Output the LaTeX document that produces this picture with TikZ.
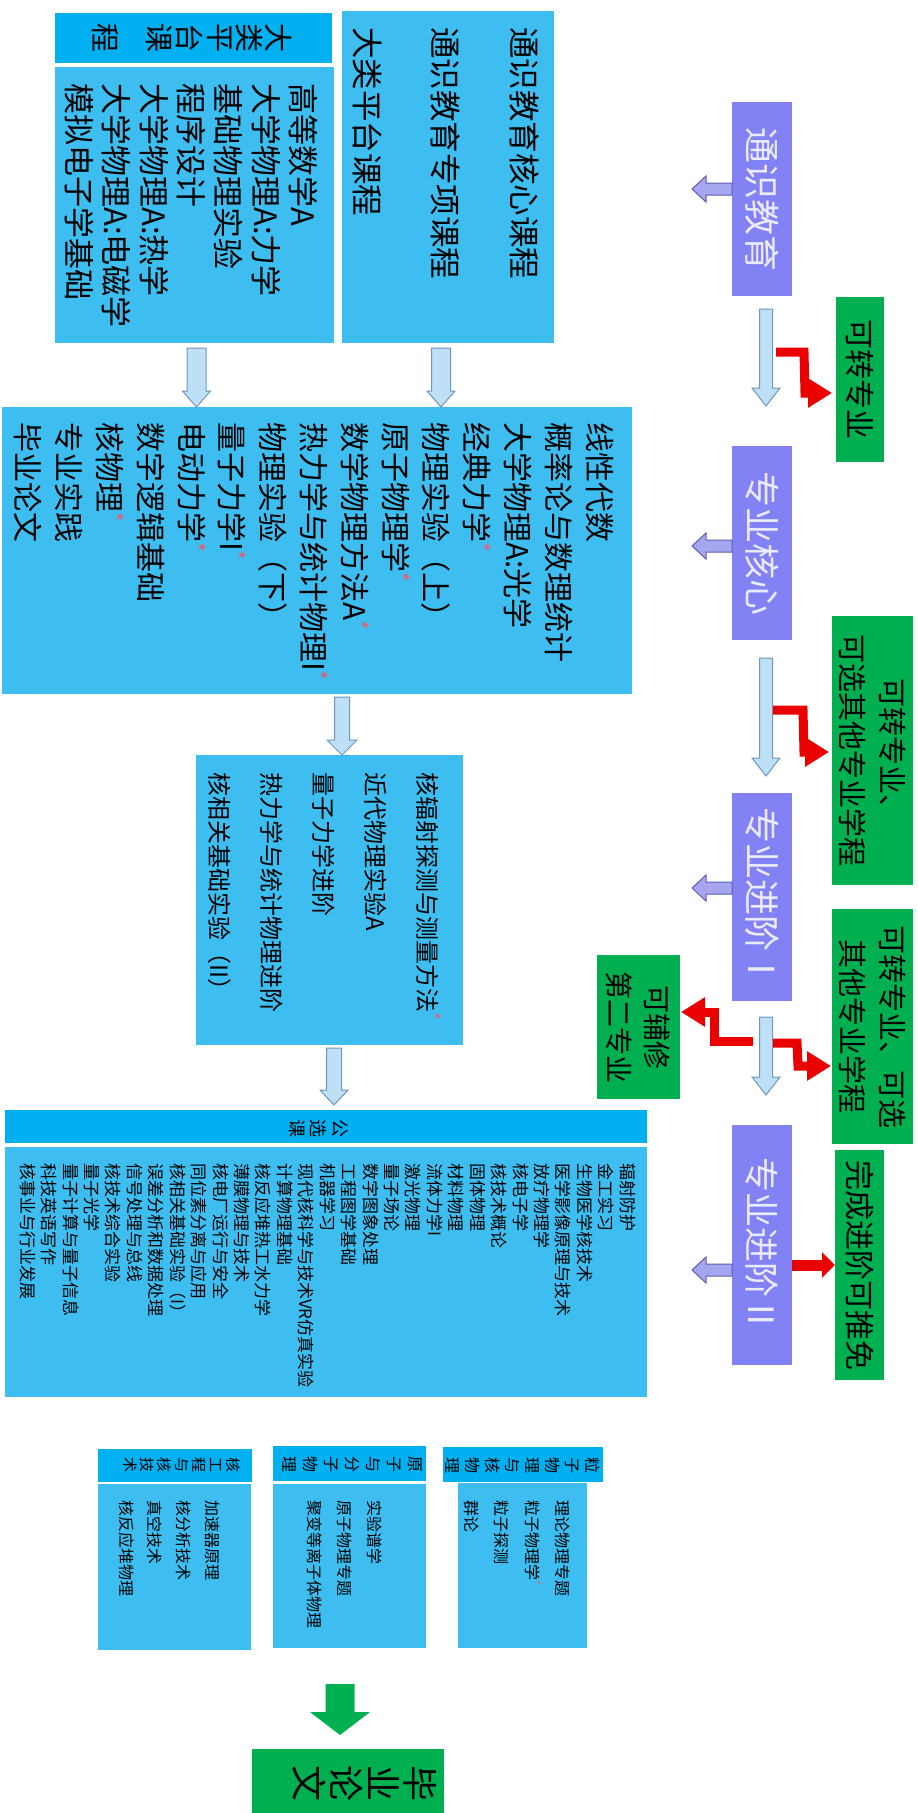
\documentclass[tikz,border=0pt]{standalone}
\usepackage{fontspec}
\setmainfont{Noto Sans CJK SC}
\usetikzlibrary{calc,arrows.meta}
\definecolor{boxbody}{RGB}{62,190,240}
\definecolor{boxhead}{RGB}{0,176,240}
\definecolor{purp}{RGB}{130,130,245}
\definecolor{purptext}{RGB}{235,235,255}
\definecolor{grn}{RGB}{0,176,80}
\definecolor{redarr}{RGB}{235,0,0}
\definecolor{dafill}{RGB}{190,224,247}
\definecolor{dadraw}{RGB}{110,150,190}
\definecolor{lafill}{RGB}{165,165,240}
\definecolor{ladraw}{RGB}{95,95,175}
\definecolor{starc}{RGB}{235,90,110}
\newcommand\st{\textsuperscript{\textcolor{starc}{*}}}
\newcommand\fs[2]{\fontsize{#1}{#2}\selectfont}
% block arrow pointing down: style, x, from point, to point, shaft half, head half, head length
\newcommand\blockdown[7]{%
  \path[#1] let \p1=#3, \p2=#4 in
   (#2pt-#5pt,\y1) -- (#2pt+#5pt,\y1) -- (#2pt+#5pt,\y2+#7pt) -- (#2pt+#6pt,\y2+#7pt)
   -- (#2pt,\y2) -- (#2pt-#6pt,\y2+#7pt) -- (#2pt-#5pt,\y2+#7pt) -- cycle;}
% block arrow pointing left: style, y, from point, to point, shaft half, head half, head length
\newcommand\blockleft[7]{%
  \path[#1] let \p1=#3, \p2=#4 in
   (\x1,-#2pt+#5pt) -- (\x2+#7pt,-#2pt+#5pt) -- (\x2+#7pt,-#2pt+#6pt) -- (\x2,-#2pt)
   -- (\x2+#7pt,-#2pt-#6pt) -- (\x2+#7pt,-#2pt-#5pt) -- (\x1,-#2pt-#5pt) -- cycle;}
\tikzset{
  box/.style={inner sep=0pt, outer sep=0pt, anchor=north west},
  bodybox/.style={box, fill=boxbody},
  headbox/.style={box, fill=boxhead},
  purpbox/.style={box, fill=purp},
  grnbox/.style={box, fill=grn},
  vtext/.style={rotate=-90, inner sep=0pt, align=left, anchor=north west},
  vcenter/.style={rotate=-90, inner sep=0pt, align=center},
  vchar/.style={rotate=-90, inner sep=0pt},
  dshape/.style={fill=dafill, draw=dadraw, line width=1pt},
  lshape/.style={fill=lafill, draw=ladraw, line width=1pt},
  gshape/.style={fill=grn},
  redzig/.style={draw=redarr, line width=9pt, line join=miter, -{Triangle[length=24pt,width=28pt]}},
  redstraight/.style={draw=redarr, line width=11pt, -{Triangle[length=13pt,width=25pt]}},
}
\begin{document}
\begin{tikzpicture}[x=1pt,y=-1pt]
\useasboundingbox[fill=white] (0,0) rectangle (918,1813);

% ---------- left column boxes ----------
\node[headbox, minimum width=277pt, minimum height=50pt] (Ah) at (55,13) {};
\node[bodybox, minimum width=279pt, minimum height=276pt] (A) at (55,67) {};
\node[bodybox, minimum width=212pt, minimum height=332pt] (B) at (342,11) {};
\node[bodybox, minimum width=630pt, minimum height=287pt] (C) at (2,407) {};
\node[bodybox, minimum width=267pt, minimum height=290pt] (D) at (196,755) {};
\node[headbox, minimum width=642pt, minimum height=33pt] (Eh) at (5,1110) {};
\node[bodybox, minimum width=642pt, minimum height=250pt] (E) at (5,1147) {};
\node[headbox, minimum width=160pt, minimum height=35pt] (P1h) at (443,1447) {};
\node[bodybox, minimum width=129pt, minimum height=165pt] (P1) at (458,1483) {};
\node[headbox, minimum width=153pt, minimum height=35pt] (P2h) at (273,1446) {};
\node[bodybox, minimum width=153pt, minimum height=164pt] (P2) at (273,1484) {};
\node[headbox, minimum width=154pt, minimum height=33pt] (P3h) at (98,1449) {};
\node[bodybox, minimum width=153pt, minimum height=166pt] (P3) at (98,1484) {};
\node[grnbox, minimum width=192pt, minimum height=64pt] (F) at (252,1749) {};

% ---------- texts of left boxes ----------
\node[vchar, font=\fs{29}{30}] (Ah1) at (279,38) {大};
\node[vchar, font=\fs{29}{30}] (Ah2) at (250,38) {类};
\node[vchar, font=\fs{29}{30}] (Ah3) at (220,38) {平};
\node[vchar, font=\fs{29}{30}] (Ah4) at (190,38) {台};
\node[vchar, font=\fs{29}{30}] (Ah5) at (159,38) {课};
\node[vchar, font=\fs{29}{30}] (Ah6) at (105,38) {程};
\node[vtext, font=\fs{31}{37.3}] (At) at (318,83)
 {高等数学A\\大学物理A:力学\\基础物理实验\\程序设计\\大学物理A:热学\\大学物理A:电磁学\\模拟电子学基础};
\node[vtext, font=\fs{31.5}{78.5}] (Bt) at (539,27)
 {通识教育核心课程\\通识教育专项课程\\大类平台课程};
\node[vtext, font=\fs{30}{40.8}] (Ct) at (613.5,422)
 {线性代数\\概率论与数理统计\\大学物理A:光学\\经典力学\st\\物理实验（上）\\原子物理学\st\\数学物理方法A\st\\热力学与统计物理I\st\\物理实验（下）\\量子力学I\st\\电动力学\st\\数字逻辑基础\\核物理\st\\专业实践\\毕业论文};
\node[vtext, font=\fs{24}{52}] (Dt) at (441,772)
 {核辐射探测与测量方法\st\\近代物理实验A\\量子力学进阶\\热力学与统计物理进阶\\核相关基础实验（II）};
\node[vcenter, anchor=north, font=\fs{18}{21.5}] (Eht) at (348,1128) {公\\选\\课};
\node[vtext, font=\fs{17}{21.43}] (Et) at (635.7,1163)
 {辐射防护\\金工实习\\生物医学核技术\\医学影像原理与技术\\放疗物理学\\核电子学\\核技术概论\\固体物理\\材料物理\\流体力学I\\激光物理\\量子场论\\数字图象处理\\工程图学基础\\机器学习\\现代核科学与技术VR仿真实验\\计算物理基础\\核反应堆热工水力学\\薄膜物理与技术\\核电厂运行与安全\\同位素分离与应用\\核相关基础实验（I）\\误差分析和数据处理\\信号处理与总线\\核技术综合实验\\量子光学\\量子计算与量子信息\\科技英语写作\\核事业与行业发展};
\node[vcenter, anchor=north, font=\fs{16}{20.1}] (P1ht) at (600.5,1465) {粒\\子\\物\\理\\与\\核\\物\\理};
\node[vtext, font=\fs{16}{30.3}] (P1t) at (570,1500) {理论物理专题\\粒子物理学\st\\粒子探测\\群论};
\node[vcenter, anchor=north, font=\fs{16}{21}] (P2ht) at (422.5,1464) {原\\子\\与\\分\\子\\物\\理};
\node[vtext, font=\fs{16}{30}] (P2t) at (382,1500) {实验谱学\\原子物理专题\\聚变等离子体物理};
\node[vcenter, anchor=north, font=\fs{15}{17.2}] (P3ht) at (240.5,1465) {核\\工\\程\\与\\核\\技\\术};
\node[vtext, font=\fs{16}{28.7}] (P3t) at (220,1500) {加速器原理\\核分析技术\\真空技术\\核反应堆物理};
\node[vcenter, anchor=north, font=\fs{36}{37}] (Ft) at (437,1783) {毕\\业\\论\\文};

% ---------- right column: stages ----------
\node[purpbox, minimum width=60pt, minimum height=194pt] (U1) at (732,102) {};
\node[purpbox, minimum width=60pt, minimum height=194pt] (U2) at (732,446) {};
\node[purpbox, minimum width=60pt, minimum height=208pt] (U3) at (732,793) {};
\node[purpbox, minimum width=60pt, minimum height=240pt] (U4) at (732,1125) {};
\node[vcenter, font=\fs{36}{40}, text=purptext] at (U1.center) {通识教育};
\node[vcenter, font=\fs{36}{40}, text=purptext] at (U2.center) {专业核心};
\node[vcenter, font=\fs{36}{40}, text=purptext] at (U3.center) {专业进阶Ⅰ};
\node[vcenter, font=\fs{35}{40}, text=purptext] at (U4.center) {专业进阶Ⅱ};

\node[grnbox, minimum width=48pt, minimum height=165pt] (G1) at (836,297) {};
\node[grnbox, minimum width=81pt, minimum height=269pt] (G2) at (832,616) {};
\node[grnbox, minimum width=81pt, minimum height=235pt] (G3) at (832,909) {};
\node[grnbox, minimum width=49pt, minimum height=230pt] (G4) at (835,1150) {};
\node[grnbox, minimum width=83pt, minimum height=144pt] (G5) at (597,955) {};
\node[vcenter, font=\fs{30}{34}] at (G1.center) {可转专业};
\node[vcenter, font=\fs{29}{40}] at (G2.center) {可转专业、\\可选其他专业学程};
\node[vcenter, font=\fs{29}{40}] at (G3.center) {可转专业、可选\\其他专业学程};
\node[vcenter, font=\fs{30}{34}] at (G4.center) {完成进阶可推免};
\node[vcenter, font=\fs{28}{38}] at (G5.center) {可辅修\\第二专业};

% ---------- block arrows (down) ----------
\blockdown{dshape}{441}{($(B.south)+(0,5)$)}{(C.north)}{9.5}{14}{16}
\blockdown{dshape}{196.5}{($(A.south)+(0,5)$)}{(C.north)}{9.5}{14}{16}
\blockdown{dshape}{342}{($(C.south)+(0,3)$)}{(D.north)}{7.5}{15}{15}
\blockdown{dshape}{334}{($(D.south)+(0,3)$)}{($(Eh.north)+(0,-5)$)}{7.5}{14}{15}
\blockdown{dshape}{766}{($(U1.south)+(0,13)$)}{($(U2.north)+(0,-40)$)}{6.5}{14}{18}
\blockdown{dshape}{766}{($(U2.south)+(0,18)$)}{($(U3.north)+(0,-17)$)}{6.5}{14}{18}
\blockdown{dshape}{766}{($(U3.south)+(0,16)$)}{($(U4.north)+(0,-30)$)}{6.5}{14}{18}
\blockdown{gshape}{340}{($(P2.south)+(0,36)$)}{($(F.north)+(0,-14)$)}{14.5}{30}{23}

% ---------- block arrows (left) ----------
\coordinate (L1) at (692,189);
\coordinate (L2) at (692,546);
\coordinate (L3) at (692,888);
\coordinate (L4) at (692,1270);
\blockleft{lshape}{189}{(U1.west)}{(L1)}{6}{13}{14}
\blockleft{lshape}{546}{(U2.west)}{(L2)}{6}{13}{14}
\blockleft{lshape}{888}{(U3.west)}{(L3)}{6}{13}{14}
\blockleft{lshape}{1270}{(U4.west)}{(L4)}{6}{13}{14}

% ---------- red arrows ----------
\coordinate (r1s) at (776,352);
\coordinate (r1e) at (832,393);
\draw[redzig] (r1s) -- (804,352) -- (805,393) -- (r1e);
\coordinate (r2s) at (773,710);
\coordinate (r2e) at (829,752);
\draw[redzig] (r2s) -- (803,710) -- (804,752) -- (r2e);
\coordinate (r3s) at (773,1043);
\coordinate (r3e) at (831,1066);
\draw[redzig] (r3s) -- (797,1043) -- (798,1066) -- (r3e);
\coordinate (r4s) at (753,1041);
\coordinate (r4e) at (681,1012);
\draw[redzig] (r4s) -- (714,1041) -- (714,1012) -- (r4e);
\draw[redstraight] (U4.east |- 0,1265) -- (G4.west |- 0,1265);
\end{tikzpicture}
\end{document}
